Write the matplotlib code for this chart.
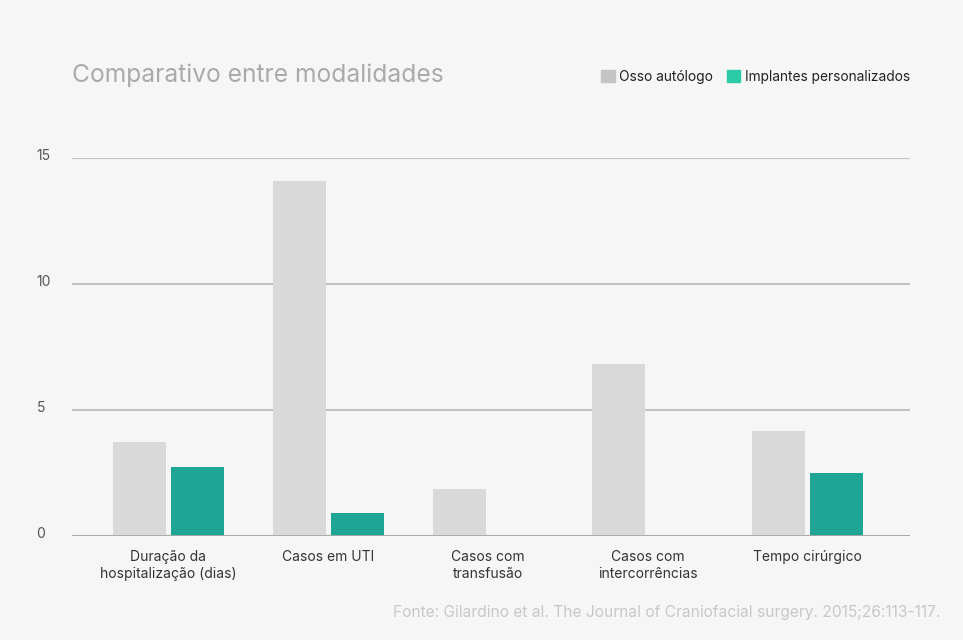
import matplotlib
matplotlib.use("Agg")
import matplotlib.pyplot as plt
import matplotlib.patches as mpatches
import matplotlib.transforms as mtransforms
import numpy as np

categories = ["Duração da\nhospitalização (dias)", "Casos em UTI", "Casos com\ntransfusão",
              "Casos com\nintercorrências", "Tempo cirúrgico"]
osso_autologo = [3.73, 14.1, 1.87, 6.83, 4.17]
implantes = [2.74, 0.91, 0.0, 0.0, 2.5]
yticks = [0, 5, 10, 15]

BG = "#f6f6f6"
GRAY_BAR = "#d9d9d9"
TEAL_BAR = "#1fa595"

plt.rcParams['font.family'] = ['Inter', 'DejaVu Sans']

fig = plt.figure(figsize=(9.63, 6.4), dpi=100, facecolor=BG)
ax = fig.add_axes([72 / 963, 104 / 640, 838 / 963, 378 / 640], facecolor=BG)

unit = 159.75
x = np.arange(len(categories))
w = 53 / unit
gap = 5 / unit
ax.bar(x - (w + gap) / 2, osso_autologo, width=w, color=GRAY_BAR, zorder=3)
ax.bar(x + (w + gap) / 2, implantes, width=w, color=TEAL_BAR, zorder=3)

ax.set_xlim(-96.5 / unit, -96.5 / unit + 838 / unit)
ax.set_ylim(0, 15)
ax.set_yticks(yticks)
ax.set_yticklabels([str(t) for t in yticks])
ax.set_xticks(x)
ax.set_xticklabels(categories, fontsize=10, color="#333333", linespacing=1.3)
ax.tick_params(axis='x', length=0, pad=10)
ax.tick_params(axis='y', length=0, pad=25.5, labelsize=10, labelcolor="#555555")
for lab in ax.get_yticklabels():
    lab.set_horizontalalignment('left')
    lab.set_transform(lab.get_transform() +
                      mtransforms.ScaledTranslation(0, 2.5 / 72, fig.dpi_scale_trans))

for s in ax.spines.values():
    s.set_visible(False)
ax.grid(axis='y', color="#c2c2c2", linewidth=1.5, zorder=1)
ax.axhline(0, color="#a8a8a8", linewidth=2, zorder=4)

fig.text(72 / 963, 1 - 75 / 640, "Comparativo entre modalidades", fontsize=17.7,
         color="#aaaaaa", va='center', ha='left')

handles = [mpatches.Patch(color="#c4c4c4", label="Osso autólogo"),
           mpatches.Patch(color="#2bcba9", label="Implantes personalizados")]
fig.legend(handles=handles, loc='center right', bbox_to_anchor=(922 / 963, 1 - 77 / 640),
           ncol=2, frameon=False, fontsize=9.9, handlelength=1.0, handleheight=1.0,
           handletextpad=0.3, columnspacing=1.0, labelcolor="#222222")

fig.text(940 / 963, 1 - 613 / 640,
         "Fonte: Gilardino et al. The Journal of Craniofacial surgery. 2015;26:113-117.",
         fontsize=11.2, color="#c8c8c8", ha='right', va='center')

fig.savefig("out.png", dpi=100, facecolor=BG)
